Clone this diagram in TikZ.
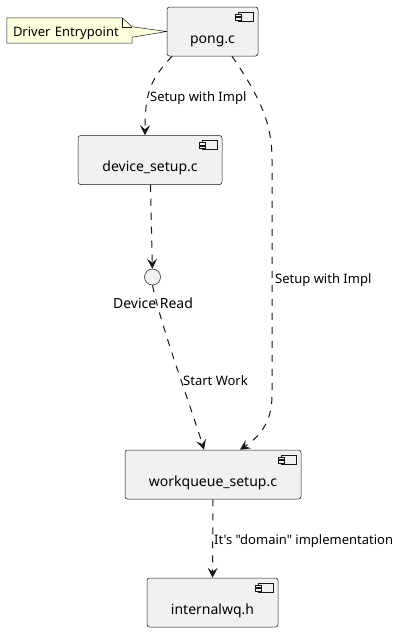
\documentclass[tikz,border=0pt]{standalone}
\usepackage{fontspec}
\setmainfont{Noto Sans}[Ligatures=TeXOff]
\usetikzlibrary{arrows.meta,backgrounds}
\definecolor{compfill}{HTML}{F1F1F1}
\definecolor{umlline}{HTML}{181818}
\definecolor{notefill}{HTML}{FEFFDD}
\tikzset{
	comp/.style={draw=umlline, line width=0.5pt, fill=compfill, rounded corners=2.5pt, minimum height=49pt, text height=23pt, text depth=0pt, inner sep=1pt, font=\fontsize{14}{16}\selectfont},
	ifc/.style={draw=umlline, line width=0.5pt, fill=compfill, circle, minimum size=16pt, inner sep=0pt},
	dep/.style={draw=umlline, line width=1pt, dash pattern=on 7pt off 7pt, -{Stealth[length=10pt,width=10pt,inset=4pt]}},
	deplabel/.style={anchor=base west, inner sep=0pt, font=\fontsize{13}{15}\selectfont},
	notebox/.style={minimum height=25pt, text width=113pt, text height=12pt, text depth=0pt, inner xsep=6pt, inner ysep=0pt, align=left, font=\fontsize{13}{15}\selectfont},
}
% small component icon in the upper right corner of a box
\newcommand{\compicon}[1]{%
	\draw[umlline, line width=0.5pt, fill=compfill] ([xshift=-20pt,yshift=-5pt]#1.north east) rectangle ([xshift=-5pt,yshift=-14pt]#1.north east);
	\draw[umlline, line width=0.5pt, fill=compfill] ([xshift=-23pt,yshift=-7pt]#1.north east) rectangle ([xshift=-17pt,yshift=-9.5pt]#1.north east);
	\draw[umlline, line width=0.5pt, fill=compfill] ([xshift=-23pt,yshift=-10.5pt]#1.north east) rectangle ([xshift=-17pt,yshift=-13pt]#1.north east);
}

\begin{document}
\begin{tikzpicture}[x=1pt, y=-1pt]
	\useasboundingbox (0,0) rectangle (400,632);
	
	\node [comp, minimum width=91pt] (pong) at (212.5,31.5) {pong.c};
	\node [comp, minimum width=144pt] (device) at (150,160) {device\_setup.c};
	\node [ifc] (read) at (152.5,277) {};
	\node [anchor=base, inner sep=0pt, font=\fontsize{14}{16}\selectfont] (readlbl) at (153,308) {Device Read};
	\node [comp, minimum width=176pt] (wq) at (213,474.5) {workqueue\_setup.c};
	\node [comp, minimum width=131pt] (iwq) at (212.5,602.5) {internalwq.h};
	
	\compicon{pong}
	\compicon{device}
	\compicon{wq}
	\compicon{iwq}
	
	% note
	\node [notebox] (note) at (69.5,30.5) {Driver Entrypoint};
	\begin{scope}[on background layer]
		\draw[umlline, line width=0.5pt, fill=notefill] (note.north west) -- ([xshift=-10pt]note.north east) -- ([yshift=-9pt]note.north east) -- (pong.west) -- ([yshift=6pt]note.south east) -- (note.south east) -- (note.south west) -- cycle;
		\draw[umlline, line width=0.5pt] ([xshift=-10pt]note.north east) -- ++(0,9) -- ++(10,0);
	\end{scope}
	
	\draw[dep] ([xshift=-40.5pt]pong.south) .. controls +(-20,22) and +(0,-46) .. ([xshift=-5pt]device.north);
	\draw[dep] ([xshift=19.5pt]pong.south) .. controls (262,100) and (272,125) .. (272,160) -- (272,395) .. controls (272,420) and (262,435) .. ([xshift=27pt]wq.north);
	\draw[dep] (device) -- (read);
	\draw[dep] (read.south) .. controls +(8,40) and +(-12,-40) .. ([xshift=-9pt]wq.north);
	\draw[dep] (wq) -- (iwq);
	
	\node [deplabel] (setup1) at (150,101) {Setup with Impl};
	\node [deplabel] (setup2) at (275,283) {Setup with Impl};
	\node [deplabel] (start) at (183,385) {Start Work};
	\node [deplabel] (domain) at (214,544) {It's "domain" implementation};
	
\end{tikzpicture}
\end{document}
